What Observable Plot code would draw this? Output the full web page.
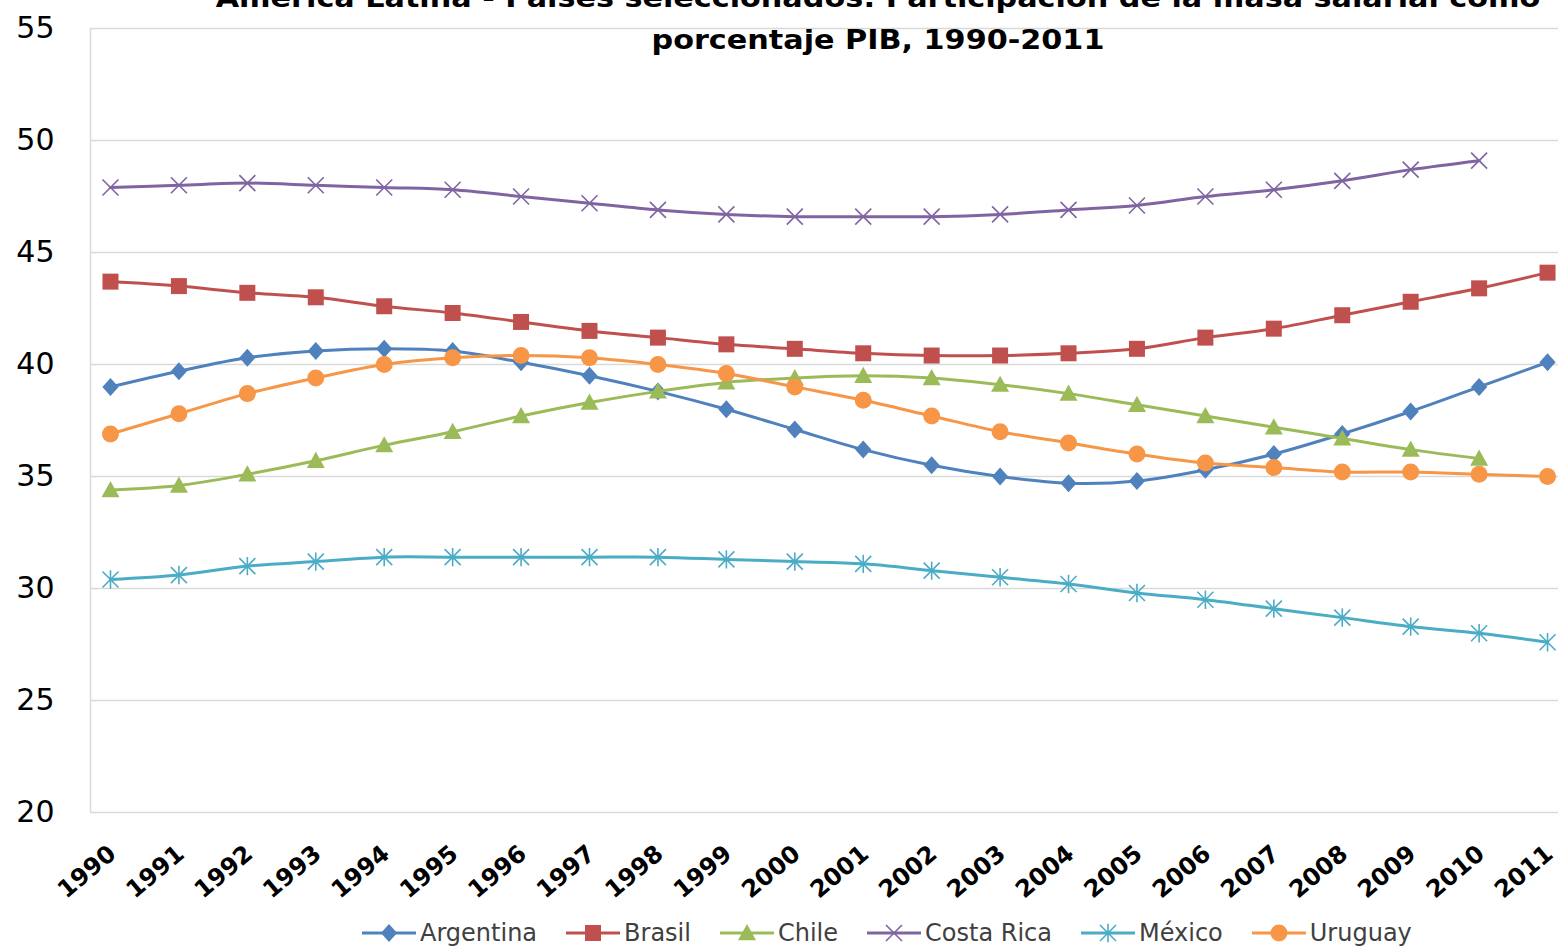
<!DOCTYPE html>
<html>
<head>
<meta charset="utf-8">
<script src="https://cdn.jsdelivr.net/npm/d3@7"></script>
<script src="https://cdn.jsdelivr.net/npm/@observablehq/plot@0.6"></script>
<style>
  html, body { margin: 0; padding: 0; background: #fff; overflow: hidden; }
  body { font-family: "DejaVu Sans", sans-serif; }
  #wrap { position: relative; width: 1558px; height: 947px; overflow: hidden; }
  #chart { position: absolute; left: 0; top: 0; }
  #title { position: absolute; left: 878px; top: -23px; transform: translateX(-50%) scaleX(1.12);
           white-space: nowrap; text-align: center; font-weight: bold; font-size: 27px;
           line-height: 42px; color: #000; z-index: 2; }
  #legend { position: absolute; left: 362px; top: 917px; height: 32px; display: flex; align-items: center;
            gap: 29px; font-size: 24px; color: #404040; white-space: nowrap; }
  .item { display: flex; align-items: center; gap: 4px; }
</style>
</head>
<body>
<div id="wrap">
  <div id="chart"></div>
  <div id="title">América Latina - Países seleccionados: Participación de la masa salarial como<br>porcentaje PIB, 1990-2011</div>
  <div id="legend"></div>
</div>
<script>
// ---- Data ----
const years = [1990,1991,1992,1993,1994,1995,1996,1997,1998,1999,2000,2001,2002,2003,2004,2005,2006,2007,2008,2009,2010,2011];
const argentina = [39.0,39.7,40.3,40.6,40.7,40.6,40.1,39.5,38.8,38.0,37.1,36.2,35.5,35.0,34.7,34.8,35.3,36.0,36.9,37.9,39.0,40.1];
const brasil    = [43.7,43.5,43.2,43.0,42.6,42.3,41.9,41.5,41.2,40.9,40.7,40.5,40.4,40.4,40.5,40.7,41.2,41.6,42.2,42.8,43.4,44.1];
const chile     = [34.4,34.6,35.1,35.7,36.4,37.0,37.7,38.3,38.8,39.2,39.4,39.5,39.4,39.1,38.7,38.2,37.7,37.2,36.7,36.2,35.8,null];
const costaRica = [47.9,48.0,48.1,48.0,47.9,47.8,47.5,47.2,46.9,46.7,46.6,46.6,46.6,46.7,46.9,47.1,47.5,47.8,48.2,48.7,49.1,null];
const mexico    = [30.4,30.6,31.0,31.2,31.4,31.4,31.4,31.4,31.4,31.3,31.2,31.1,30.8,30.5,30.2,29.8,29.5,29.1,28.7,28.3,28.0,27.6];
const uruguay   = [36.9,37.8,38.7,39.4,40.0,40.3,40.4,40.3,40.0,39.6,39.0,38.4,37.7,37.0,36.5,36.0,35.6,35.4,35.2,35.2,35.1,35.0];
const seriesNames = ["Argentina","Brasil","Chile","Costa Rica","México","Uruguay"];
const seriesValues = [argentina, brasil, chile, costaRica, mexico, uruguay];
const yTicks = [20,25,30,35,40,45,50,55];

// ---- Styles ----
const colors = ["#4F81BD","#C0504D","#9BBB59","#8064A2","#4BACC6","#F79646"];
const R = s => Math.sqrt(s / Math.PI);
const symDiamond = {draw(c, s){const r=R(s); c.moveTo(0,-r); c.lineTo(r*0.9,0); c.lineTo(0,r); c.lineTo(-r*0.9,0); c.closePath();}};
const symSquare  = {draw(c, s){const r=R(s); c.rect(-r,-r,2*r,2*r);}};
const symTri     = {draw(c, s){const r=R(s); c.moveTo(0,-r); c.lineTo(r,r*0.8); c.lineTo(-r,r*0.8); c.closePath();}};
const symTimes   = {draw(c, s){const r=R(s); c.moveTo(-r,-r); c.lineTo(r,r); c.moveTo(r,-r); c.lineTo(-r,r);}};
const symStar    = {draw(c, s){const r=R(s); c.moveTo(-r,-r); c.lineTo(r,r); c.moveTo(r,-r); c.lineTo(-r,r); c.moveTo(0,-r*1.15); c.lineTo(0,r*1.15);}};
const symCircle  = {draw(c, s){const r=R(s); c.moveTo(r,0); c.arc(0,0,r,0,2*Math.PI);}};
const symbols = [symDiamond, symSquare, symTri, symTimes, symStar, symCircle];
const filled  = [true, true, true, false, false, true];
const radii   = [9, 8, 9, 8, 8, 8.5];

// ---- Table ----
const rows = [];
seriesNames.forEach((name, i) => {
  seriesValues[i].forEach((v, j) => { if (v != null) rows.push({series: name, idx: i, year: years[j], value: v}); });
});

const marks = [
  Plot.gridY(yTicks, {stroke: "#d9d9d9", strokeOpacity: 1, strokeWidth: 1.5}),
  Plot.ruleX([1989.708], {y1: 20, y2: 55, stroke: "#d9d9d9", strokeWidth: 1.5}),
  Plot.axisY({ticks: yTicks, tickSize: 0, tickPadding: 36, fontSize: 30, fill: "#000", label: null}),
  Plot.axisX({ticks: years, tickFormat: d => String(d), tickSize: 0, tickPadding: 38, tickRotate: -40,
              fontSize: 24, fontWeight: "bold", fill: "#000", dx: 2, label: null})
];
seriesNames.forEach((name, i) => {
  const data = rows.filter(d => d.idx === i);
  marks.push(Plot.line(data, {x: "year", y: "value", stroke: colors[i], strokeWidth: 3, curve: "catmull-rom"}));
  marks.push(Plot.dot(data, {x: "year", y: "value", symbol: symbols[i], r: radii[i],
    fill: filled[i] ? colors[i] : "none", stroke: filled[i] ? "none" : colors[i], strokeWidth: 1.6}));
});

const chart = Plot.plot({
  width: 1558, height: 912,
  marginLeft: 90, marginRight: 0, marginTop: 28, marginBottom: 100,
  style: {fontFamily: "DejaVu Sans, sans-serif", background: "#fff", color: "#000", overflow: "visible"},
  x: {type: "linear", domain: [1989.708, 2011.16], label: null},
  y: {domain: [20, 55], label: null},
  marks
});
document.getElementById("chart").appendChild(chart);

// ---- Legend ----
const legend = document.getElementById("legend");
seriesNames.forEach((name, i) => {
  const item = document.createElement("div");
  item.className = "item";
  const svg = d3.create("svg").attr("width", 54).attr("height", 30);
  svg.append("line").attr("x1", 0).attr("x2", 54).attr("y1", 15).attr("y2", 15)
     .attr("stroke", colors[i]).attr("stroke-width", 3);
  svg.append("path").attr("transform", "translate(27,15)")
     .attr("d", d3.symbol(symbols[i], radii[i]*radii[i]*Math.PI)())
     .attr("fill", filled[i] ? colors[i] : "none")
     .attr("stroke", filled[i] ? "none" : colors[i]).attr("stroke-width", 1.6);
  item.appendChild(svg.node());
  const span = document.createElement("span");
  span.textContent = name;
  item.appendChild(span);
  legend.appendChild(item);
});
</script>
</body>
</html>
